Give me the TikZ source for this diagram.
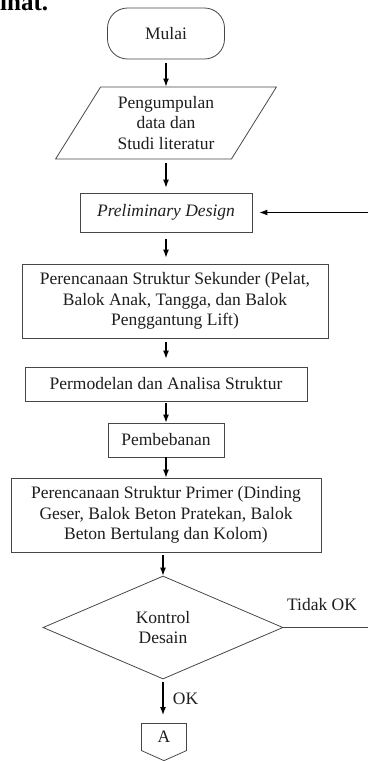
\documentclass[tikz,border=0pt]{standalone}
\usepackage{fontspec}
\setmainfont{Liberation Serif}
\usetikzlibrary{shapes.geometric, shapes.symbols, arrows.meta, positioning}
\definecolor{boxline}{RGB}{70, 70, 70}
\definecolor{inktext}{RGB}{30, 30, 30}
\newcommand{\flowfont}{\fontsize{17.5}{20.5}\selectfont}

\tikzset{
  base/.style={draw=boxline, line width=0.8pt, align=center, text=inktext, font=\flowfont, inner sep=0pt},
  process/.style={base, rectangle},
  startstop/.style={base, rectangle, rounded corners=20pt},
  io/.style={base, trapezium, trapezium left angle=58, trapezium right angle=122},
  decision/.style={base, diamond},
  offpage/.style={base, signal, signal to=south, signal pointer angle=132},
  flow/.style={-{Latex[length=8pt,width=6pt]}, line width=1.1pt, black},
  plainline/.style={line width=0.8pt, boxline},
}

\begin{document}
\begin{tikzpicture}[x=1pt, y=-1pt]
  \useasboundingbox (0,0) rectangle (368,761);
  \clip (0,0) rectangle (368,761);

  % Cut-off line of text above
  \node[anchor=base west, inner sep=0pt, font=\fontsize{25}{30}\selectfont\bfseries] (lihat) at (0,10) {ihat.};

  % Steps
  \node[startstop, minimum width=117pt, minimum height=51pt] (mulai) at (166,33.5) {Mulai};
  \node[io, minimum width=221pt, minimum height=72pt] (data) at (166,123) {Pengumpulan\\data dan\\Studi literatur};
  \node[process, minimum width=172pt, minimum height=39pt, font=\flowfont\itshape] (prelim) at (166,212.5) {Preliminary Design};
  \node[process, minimum width=306pt, minimum height=74pt] (sekunder) at (175,301) {Perencanaan Struktur Sekunder (Pelat,\\Balok Anak, Tangga, dan Balok\\Penggantung Lift)};
  \node[process, minimum width=282pt, minimum height=34pt] (model) at (166,384) {Permodelan dan Analisa Struktur};
  \node[process, minimum width=116pt, minimum height=34pt] (beban) at (166,440) {Pembebanan};
  \node[process, minimum width=310pt, minimum height=74pt] (primer) at (166,515) {Perencanaan Struktur Primer (Dinding\\Geser, Balok Beton Pratekan, Balok\\Beton Bertulang dan Kolom)};
  \node[decision, minimum width=240pt, minimum height=103pt] (kontrol) at (163,627.5) {Kontrol\\Desain};
  \node[offpage, minimum width=45pt, minimum height=30pt] (hubA) at (164,737) {A};

  % Connectors
  \draw[flow, shorten <=4pt] (mulai.south) -- (mulai.south |- data.north);
  \draw[flow, shorten <=4pt, shorten >=5pt] (data.south -| prelim.north) -- (prelim.north);
  \draw[flow, shorten <=7pt, shorten >=6pt] (prelim.south) -- (prelim.south |- sekunder.north);
  \draw[flow, shorten <=4pt, shorten >=8pt] (model.north |- sekunder.south) -- (model.north);
  \draw[flow, shorten <=2pt] (model.south) -- (beban.north);
  \draw[flow] (beban.south) -- (primer.north);
  \draw[flow, shorten <=3pt] (kontrol.north |- primer.south) -- (kontrol.north);
  \draw[flow, shorten <=3pt, shorten >=8pt] (kontrol.south) -- (kontrol.south |- hubA.north)
    node[pos=0.45, right=6pt, font=\flowfont, text=inktext] (ok) {OK};

  % Feedback
  \coordinate (kanan) at (368,627.5);
  \coordinate (kananatas) at (368,212.5);
  \draw[plainline] (kontrol.east) -- (kanan);
  \node[font=\flowfont, text=inktext] (tidak) at (322,605) {Tidak OK};
  \draw[flow, shorten >=7pt] (kananatas) -- (prelim.east);
\end{tikzpicture}
\end{document}
